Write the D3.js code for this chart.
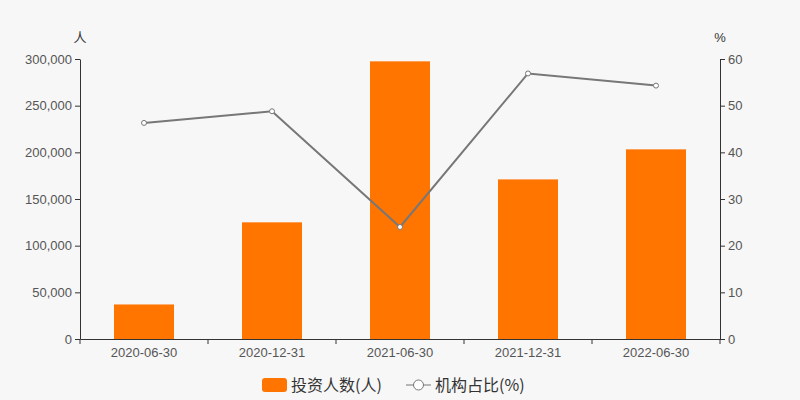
<!DOCTYPE html>
<html>
<head>
<meta charset="utf-8">
<script src="https://cdn.jsdelivr.net/npm/d3@7"></script>
<style>
  body { margin: 0; background: #f7f7f7; }
  svg { display: block; font-family: "Microsoft YaHei", "Noto Sans CJK SC", sans-serif; }
</style>
</head>
<body>
<svg id="chart" width="800" height="400"></svg>
<script>
// --- data ---
const dates = ['2020-06-30', '2020-12-31', '2021-06-30', '2021-12-31', '2022-06-30'];
const investors = [37000, 125000, 297500, 171000, 203200];
const instShare = [46.3, 48.8, 24.0, 56.9, 54.3];
const leftTicks = [0, 50000, 100000, 150000, 200000, 250000, 300000];
const rightTicks = [0, 10, 20, 30, 40, 50, 60];

const svg = d3.select('#chart');
const W = 800, H = 400;
const margin = { top: 59, right: 80, bottom: 61, left: 80 };
const plotW = W - margin.left - margin.right;
const plotH = H - margin.top - margin.bottom;

svg.append('rect').attr('width', W).attr('height', H).attr('fill', '#f7f7f7');

const g = svg.append('g').attr('transform', `translate(${margin.left},${margin.top})`);

const x = d3.scaleBand().domain(dates).range([0, plotW]);
const yL = d3.scaleLinear().domain([0, 300000]).range([plotH, 0]);
const yR = d3.scaleLinear().domain([0, 60]).range([plotH, 0]);

const axisColor = '#333';
const labelColor = '#555';

// bars
const barW = 60;
g.selectAll('rect.bar')
  .data(dates)
  .join('rect')
  .attr('class', 'bar')
  .attr('x', d => x(d) + x.bandwidth() / 2 - barW / 2)
  .attr('y', (d, i) => yL(investors[i]))
  .attr('width', barW)
  .attr('height', (d, i) => plotH - yL(investors[i]))
  .attr('fill', '#ff7500');

// line
const line = d3.line()
  .x((d, i) => x(dates[i]) + x.bandwidth() / 2)
  .y(d => yR(d));

g.append('path')
  .datum(instShare)
  .attr('d', line)
  .attr('fill', 'none')
  .attr('stroke', '#777')
  .attr('stroke-width', 2);

g.selectAll('circle.pt')
  .data(instShare)
  .join('circle')
  .attr('class', 'pt')
  .attr('cx', (d, i) => x(dates[i]) + x.bandwidth() / 2)
  .attr('cy', d => yR(d))
  .attr('r', 2.5)
  .attr('fill', '#fff')
  .attr('stroke', '#777')
  .attr('stroke-width', 1);

// axes
function styleAxis(sel) {
  sel.selectAll('path.domain').attr('stroke', axisColor);
  sel.selectAll('.tick line').attr('stroke', axisColor);
  sel.selectAll('.tick text').attr('fill', labelColor).style('font-size', '13px')
    .style('font-family', 'Arial, "Liberation Sans", sans-serif');
}

const leftAxis = g.append('g')
  .call(d3.axisLeft(yL).tickValues(leftTicks).tickSize(5).tickSizeOuter(0).tickPadding(3)
    .tickFormat(d3.format(',')));
styleAxis(leftAxis);

const rightAxis = g.append('g')
  .attr('transform', `translate(${plotW},0)`)
  .call(d3.axisRight(yR).tickValues(rightTicks).tickSize(5).tickSizeOuter(0).tickPadding(3));
styleAxis(rightAxis);

const bottomAxis = g.append('g')
  .attr('transform', `translate(0,${plotH})`)
  .call(d3.axisBottom(x).tickSize(0).tickSizeOuter(0).tickPadding(9));
styleAxis(bottomAxis);
// ticks between categories
bottomAxis.selectAll('line.sep')
  .data(d3.range(dates.length + 1))
  .join('line')
  .attr('class', 'sep')
  .attr('x1', i => i * x.bandwidth())
  .attr('x2', i => i * x.bandwidth())
  .attr('y1', 0)
  .attr('y2', 5)
  .attr('stroke', axisColor);

// unit labels
g.append('text').attr('x', 0).attr('y', -17).attr('text-anchor', 'middle')
  .attr('fill', '#333').style('font-size', '13px').text('人');
g.append('text').attr('x', plotW).attr('y', -17).attr('text-anchor', 'middle')
  .attr('fill', '#333').style('font-size', '13px').style('font-family', 'Arial, sans-serif').text('%');

// legend
const leg = svg.append('g').attr('transform', 'translate(262,385)');
leg.append('rect').attr('x', 0).attr('y', -7).attr('width', 25).attr('height', 14).attr('rx', 3)
  .attr('fill', '#ff7500');
leg.append('text').attr('x', 29).attr('y', 0).attr('dy', '0.35em')
  .attr('fill', '#333').style('font-size', '16px').text('投资人数(人)');
leg.append('line').attr('x1', 144).attr('x2', 169).attr('y1', 0).attr('y2', 0)
  .attr('stroke', '#777').attr('stroke-width', 1);
leg.append('circle').attr('cx', 156.5).attr('cy', 0).attr('r', 5)
  .attr('fill', '#fff').attr('stroke', '#777');
leg.append('text').attr('x', 173).attr('y', 0).attr('dy', '0.35em')
  .attr('fill', '#333').style('font-size', '16px').text('机构占比(%)');
</script>
</body>
</html>
